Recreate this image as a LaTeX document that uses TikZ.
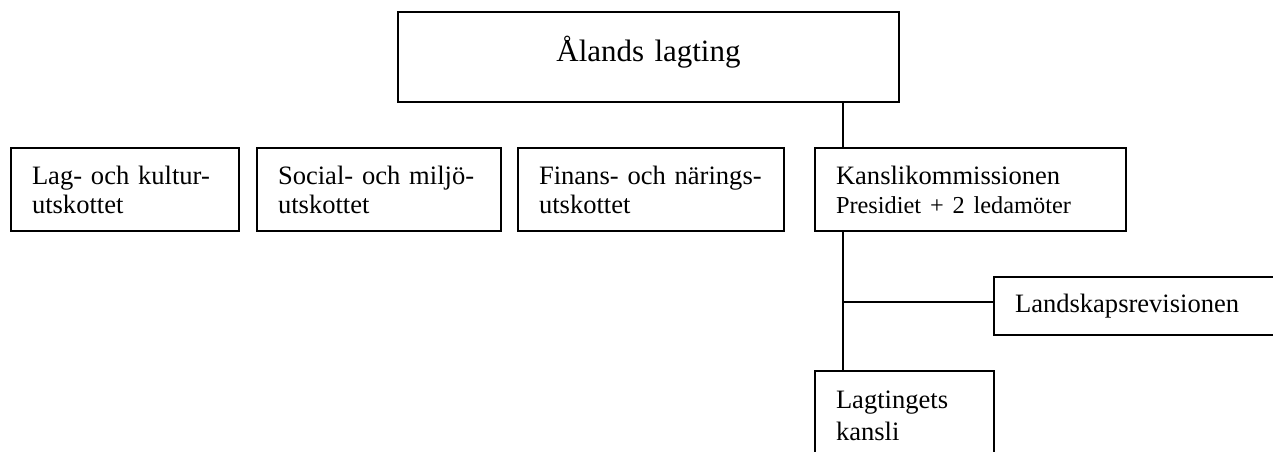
\documentclass[tikz,border=0pt]{standalone}
\usepackage{fontspec}
\setmainfont{Liberation Serif}
\usetikzlibrary{positioning,calc}

\begin{document}
\begin{tikzpicture}[
		x=0.452pt, y=-0.452pt,
		% Styles
		organ/.style={rectangle, draw=black, line width=0.9pt, inner xsep=9.5pt, inner ysep=0pt, align=left, font=\fontsize{12}{13.1}\selectfont},
		board/.style={organ, minimum height=37.5pt},
		% Lines
		link/.style={line width=0.9pt, black},
		]

		% Frame
		\useasboundingbox (0,0) rectangle (1273,451);
		\clip (0,0) rectangle (1273,451);

		% Parliament
		\node[organ, align=center, text width=207.5pt, minimum height=40.7pt, text depth=7pt, font=\fontsize{14}{16}\selectfont] (lagting) at (648.5,57) {Ålands lagting};

		% Committees
		\node[board, text width=84.1pt, anchor=north west] (lagkultur) at (10,147) {Lag- och kultur-\\utskottet};
		\node[board, text width=91.3pt, anchor=north west] (socialmiljo) at (256,147) {Social- och miljö-\\utskottet};
		\node[board, text width=101.2pt, anchor=north west] (finans) at (517,147) {Finans- och närings-\\utskottet};
		\node[board, text width=121.6pt, anchor=north west] (kommission) at (814,147) {Kanslikommissionen\\{\fontsize{11}{13}\selectfont Presidiet + 2 ledamöter}};

		% Audit
		\node[organ, text width=119.8pt, minimum height=26.2pt, anchor=west] (revision) at (993,306) {Landskapsrevisionen};

		% Office
		\node[organ, text width=61.9pt, minimum height=40.7pt, anchor=north west, font=\fontsize{12}{14.5}\selectfont] (kansli) at (814,370) {Lagtingets\\kansli};

		% Trunk line
		\coordinate (trunk) at (843,0);

		% Connections
		\draw[link] (lagting.south -| trunk) -- (kommission.north -| trunk);
		\draw[link] (kommission.south -| trunk) -- (kansli.north -| trunk);
		\draw[link] ([yshift=1.8pt]revision.west) -- ([yshift=1.8pt]revision.west -| trunk);

	\end{tikzpicture}
\end{document}
